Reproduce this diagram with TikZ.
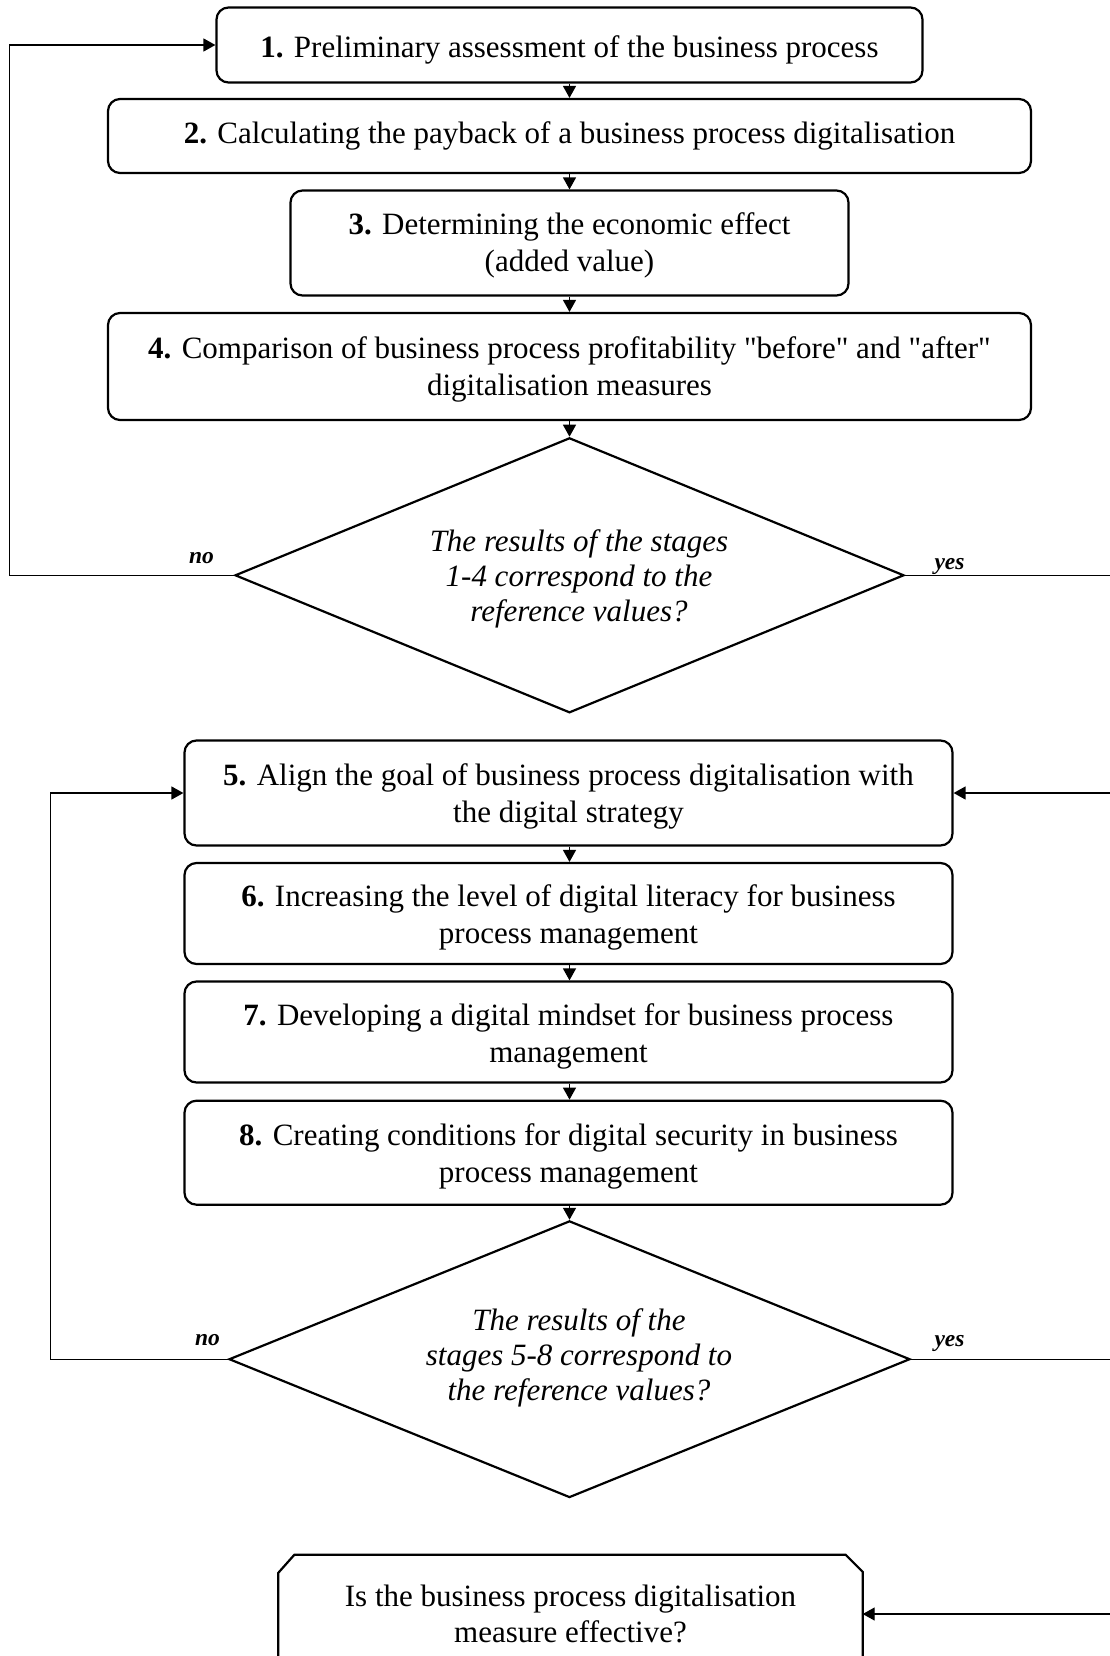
\documentclass[tikz,border=0pt]{standalone}
\usepackage{fontspec}
\setmainfont{Liberation Serif}
\usetikzlibrary{shapes.geometric,arrows.meta,calc}
\newcommand\topst[1]{\rule{0pt}{#1pt}}
\newcommand\botst[1]{\rule[-#1pt]{0pt}{#1pt}}
\newcommand\rsh{\hspace*{19pt}}
\begin{document}
\begin{tikzpicture}[x=1pt,y=-1pt,
  stepbox/.style={draw,line width=2.2pt,rounded corners=12pt,align=center,inner sep=0pt,font=\fontsize{31}{37}\selectfont},
  decision/.style={draw,diamond,line width=2.2pt,inner sep=0pt,align=center,font=\fontsize{31}{35}\selectfont\itshape},
  conn/.style={line width=1.4pt,-{Triangle[width=13pt,length=12pt]}},
  lbl/.style={font=\fontsize{23.5}{26}\selectfont\bfseries\itshape,anchor=base,inner sep=0pt}
]
\clip (0,0) rectangle (1110,1656);
\fill[white] (0,0) rectangle (1110,1656);

% stage boxes
\node[stepbox,minimum width=706pt,minimum height=75pt] (s1) at (569.5,45) {\topst{34.6}\textbf{1.} Preliminary assessment of the business process\botst{10}};
\node[stepbox,minimum width=923pt,minimum height=74pt] (s2) at (569.5,136) {\topst{24.1}\textbf{2.} Calculating the payback of a business process digitalisation\botst{10}};
\node[stepbox,minimum width=558pt,minimum height=105pt] (s3) at (569.5,243) {\topst{30.5}\textbf{3.} Determining the economic effect\\(added value)\botst{10}};
\node[stepbox,minimum width=923pt,minimum height=107pt] (s4) at (569.5,366.5) {\topst{30}\textbf{4.} Comparison of business process profitability \textquotedbl before\textquotedbl{} and \textquotedbl after\textquotedbl\\digitalisation measures\botst{10}};

\node[decision,minimum width=669pt,minimum height=275pt,aspect=2.43] (d1) at (569.5,575.3) {\topst{32}\rsh The results of the stages\\\rsh 1-4 correspond to the\\\rsh reference values?\botst{10}};

\node[stepbox,minimum width=768pt,minimum height=105pt] (s5) at (568.5,793) {\topst{31}\textbf{5.} Align the goal of business process digitalisation with\\the digital strategy\botst{10}};
\node[stepbox,minimum width=768pt,minimum height=101pt] (s6) at (568.5,913.5) {\topst{33.4}\textbf{6.} Increasing the level of digital literacy for business\\process management\botst{10}};
\node[stepbox,minimum width=768pt,minimum height=101pt] (s7) at (568.5,1032) {\topst{33.4}\textbf{7.} Developing a digital mindset for business process\\management\botst{10}};
\node[stepbox,minimum width=768pt,minimum height=104pt] (s8) at (568.5,1152.7) {\topst{32.2}\textbf{8.} Creating conditions for digital security in business\\process management\botst{10}};

\node[decision,minimum width=681pt,minimum height=276.7pt,aspect=2.46] (d2) at (569.5,1359.2) {\topst{23}\rsh The results of the\\\rsh stages 5-8 correspond to\\\rsh the reference values?\botst{10}};

% final question box (chamfered top corners)
\node[align=center,inner sep=0pt,minimum width=584pt,minimum height=118pt,font=\fontsize{31}{36}\selectfont] (fin) at (570.5,1614) {Is the business process digitalisation\\measure effective?};
\draw[line width=2.2pt] (fin.south west) -- ($(fin.north west)+(0,18)$) -- ($(fin.north west)+(16,0)$) -- ($(fin.north east)+(-17,0)$) -- ($(fin.north east)+(0,17)$) -- (fin.south east);

% vertical connectors
\draw[conn] (s1.south) -- (s2.north);
\draw[conn] (s2.south) -- (s3.north);
\draw[conn] (s3.south) -- (s4.north);
\draw[conn] (s4.south) -- (d1.north);
\draw[conn] (s5.south -| d2.north) -- (s6.north -| d2.north);
\draw[conn] (s6.south -| d2.north) -- (s7.north -| d2.north);
\draw[conn] (s7.south -| d2.north) -- (s8.north -| d2.north);
\draw[conn] (s8.south -| d2.north) -- (d2.north);

% loop coordinates
\coordinate (l1) at (9.5,0);
\coordinate (l2) at (50.7,0);
\coordinate (r1) at (1125,0);

% feedback loops
\draw[conn] (d1.west) -- (d1.west -| l1) |- (s1.west);
\draw[conn] (d1.east) -- (d1.east -| r1) |- (s5.east);
\draw[conn] (d2.west) -- (d2.west -| l2) |- (s5.west);
\draw[conn] (d2.east) -- (d2.east -| r1) |- (fin.east);

% labels
\node[lbl] (no1) at (201.5,563) {no};
\node[lbl] (yes1) at (949.5,569) {yes};
\node[lbl] (no2) at (207.5,1345) {no};
\node[lbl] (yes2) at (949.5,1346) {yes};
\end{tikzpicture}
\end{document}
